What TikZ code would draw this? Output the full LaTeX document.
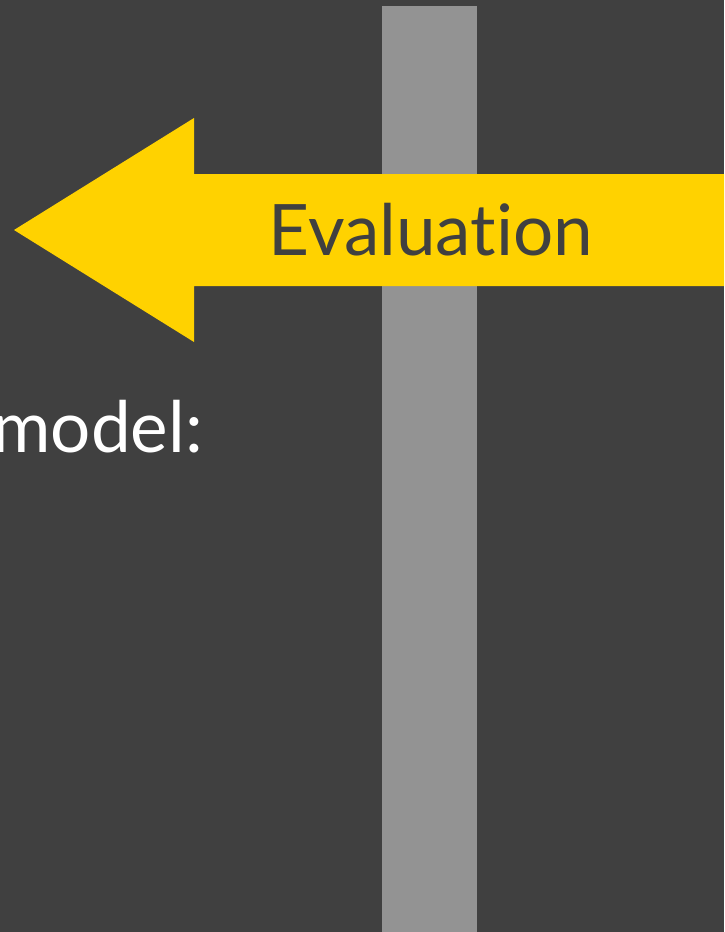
\documentclass[tikz,border=0pt]{standalone}
\usepackage{fontspec}
\setmainfont{Lato}[Ligatures=NoCommon]
\usetikzlibrary{positioning}

\definecolor{slidebg}{HTML}{404040}
\definecolor{bargray}{HTML}{939393}
\definecolor{evalyellow}{HTML}{FFD200}

\begin{document}
\begin{tikzpicture}[x=1pt, y=-1pt, every node/.style={inner sep=0pt, font=\fontsize{71}{80}\selectfont}]
	\useasboundingbox (0,0) rectangle (724,932);
	\fill [slidebg] (0,0) rectangle (724,932);
	\fill [bargray] (382,6) rectangle (477,932);
	
	% Arrow
	\fill [evalyellow] (14,230) -- (194,118) -- (194,174) -- (724,174) -- (724,286) -- (194,286) -- (194,342) -- cycle;
	\node (evaluation) [anchor=base, text=slidebg] at (431,255) {Evaluation};
	\node (model) [anchor=base east, text=white] at (203,452) {model:};
\end{tikzpicture}
\end{document}
